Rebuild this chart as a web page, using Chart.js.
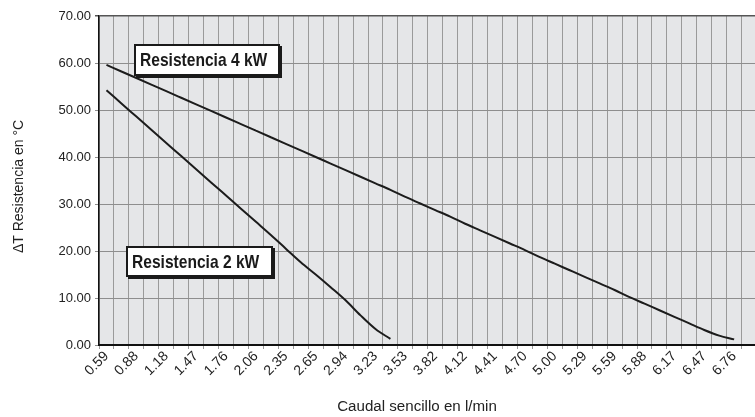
<!DOCTYPE html>
<html>
<head>
<meta charset="utf-8">
<script src="https://cdn.jsdelivr.net/npm/chart.js@4.4.1/dist/chart.umd.min.js"></script>
<style>
  html, body { margin: 0; padding: 0; background: #ffffff; overflow: hidden; }
  #wrap { width: 755px; height: 417px; position: relative; overflow: hidden; }
</style>
</head>
<body>
<div id="wrap"><canvas id="c" width="760" height="417"></canvas></div>
<script>
// Flow categories (l/min); only every other one is labelled on the axis
const categories = [
  "0.59","0.74","0.88","1.03","1.18","1.32","1.47","1.62","1.76","1.91",
  "2.06","2.21","2.35","2.50","2.65","2.79","2.94","3.09","3.23","3.38",
  "3.53","3.68","3.82","3.97","4.12","4.26","4.41","4.56","4.70","4.85",
  "5.00","5.14","5.29","5.44","5.59","5.73","5.88","6.03","6.17","6.32",
  "6.47","6.61","6.76","6.91"
];
// ΔT series (°C)
const resistencia4kW = [
  59.6,58.2,56.8,55.4,54.0,52.6,51.2,49.8,48.4,47.0,
  45.6,44.2,42.8,41.4,40.0,38.6,37.2,35.8,34.4,33.0,
  31.5,30.1,28.7,27.3,25.8,24.4,23.0,21.6,20.2,18.7,
  17.3,15.9,14.5,13.1,11.7,10.2,8.8,7.4,6.0,4.6,
  3.2,2.0,1.2,null
];
const resistencia2kW = [
  54.2,51.4,48.6,45.8,43.0,40.2,37.4,34.6,31.8,29.0,
  26.2,23.4,20.5,17.6,15.0,12.3,9.5,6.3,3.4,1.3,
  null,null,null,null,null,null,null,null,null,null,
  null,null,null,null,null,null,null,null,null,null,
  null,null,null,null
];
const seriesNames = ["Resistencia 4 kW", "Resistencia 2 kW"];
const yTitle = "\u0394T Resistencia en \u00B0C";
const xTitle = "Caudal sencillo en l/min";

const FONT = "'Liberation Sans', Arial, sans-serif";

const bgPlugin = {
  id: 'plotBg',
  beforeDraw(chart) {
    const {ctx, chartArea: a} = chart;
    ctx.save();
    ctx.fillStyle = '#e5e6e8';
    ctx.fillRect(a.left, a.top, a.right - a.left, a.bottom - a.top);
    ctx.restore();
  }
};

const boxPlugin = {
  id: 'labelBoxes',
  afterDatasetsDraw(chart) {
    const {ctx, chartArea: a} = chart;
    const boxes = [
      {text: seriesNames[0], x: a.left + 35, y: 44, w: 146, h: 32},
      {text: seriesNames[1], x: a.left + 27, y: 246, w: 147, h: 31}
    ];
    ctx.save();
    boxes.forEach(b => {
      ctx.fillStyle = '#1a1a1a';
      ctx.fillRect(b.x + 2, b.y + 2, b.w, b.h);
      ctx.fillStyle = '#ffffff';
      ctx.fillRect(b.x, b.y, b.w, b.h);
      ctx.strokeStyle = '#1a1a1a';
      ctx.lineWidth = 2;
      ctx.strokeRect(b.x + 1, b.y + 1, b.w - 2, b.h - 2);
      ctx.save();
      ctx.translate(b.x + 6, b.y + b.h / 2 + 1);
      ctx.scale(0.82, 1);
      ctx.fillStyle = '#1a1a1a';
      ctx.font = "bold 19px " + FONT;
      ctx.textBaseline = 'middle';
      ctx.textAlign = 'left';
      ctx.fillText(b.text, 0, 0);
      ctx.restore();
    });
    ctx.restore();
  }
};

const titlePlugin = {
  id: 'axisTitles',
  afterDraw(chart) {
    const {ctx, chartArea: a} = chart;
    ctx.save();
    ctx.fillStyle = '#222222';
    ctx.font = "14px " + FONT;
    ctx.textAlign = 'center';
    ctx.textBaseline = 'middle';
    ctx.save();
    ctx.translate(417, 407);
    ctx.scale(1.08, 1);
    ctx.fillText(xTitle, 0, 0);
    ctx.restore();
    ctx.save();
    ctx.translate(19, (a.top + a.bottom) / 2 + 6);
    ctx.rotate(-Math.PI / 2);
    ctx.fillText(yTitle, 0, 0);
    ctx.restore();
    ctx.restore();
  }
};

new Chart(document.getElementById('c'), {
  type: 'line',
  data: {
    labels: categories,
    datasets: [
      {
        label: seriesNames[0],
        data: resistencia4kW,
        borderColor: '#1c1c1c',
        borderWidth: 2,
        pointRadius: 0,
        fill: false,
        cubicInterpolationMode: 'monotone'
      },
      {
        label: seriesNames[1],
        data: resistencia2kW,
        borderColor: '#1c1c1c',
        borderWidth: 2,
        pointRadius: 0,
        fill: false,
        cubicInterpolationMode: 'monotone'
      }
    ]
  },
  options: {
    responsive: false,
    animation: false,
    events: [],
    layout: { padding: { top: 16, right: 2, left: 0, bottom: 0 } },
    plugins: {
      legend: { display: false },
      tooltip: { enabled: false },
      title: { display: false }
    },
    scales: {
      x: {
        type: 'category',
        offset: true,
        grid: {
          offset: true,
          color: '#9a9a9a',
          lineWidth: 1,
          tickLength: 4
        },
        border: { color: '#111111', width: 2 },
        ticks: {
          autoSkip: false,
          maxRotation: 45,
          minRotation: 45,
          padding: -1,
          color: '#222222',
          font: { family: FONT, size: 14 },
          callback: function(val, idx) { return idx % 2 === 0 ? this.getLabelForValue(val) : ''; }
        },
        title: { display: false },
        afterFit(s) { s.height = 72; }
      },
      y: {
        min: 0,
        max: 70,
        grid: {
          color: ctx => (ctx.tick && ctx.tick.value === 70) ? '#555555' : '#8e8e8e',
          lineWidth: ctx => (ctx.tick && ctx.tick.value === 70) ? 1.5 : 1,
          tickLength: 4
        },
        border: { color: '#111111', width: 1.5 },
        ticks: {
          stepSize: 10,
          padding: 4,
          color: '#222222',
          font: { family: FONT, size: 13 },
          callback: v => v.toFixed(2)
        },
        title: { display: false },
        afterFit(s) { s.width = 99; }
      }
    }
  },
  plugins: [bgPlugin, boxPlugin, titlePlugin]
});
</script>
</body>
</html>
